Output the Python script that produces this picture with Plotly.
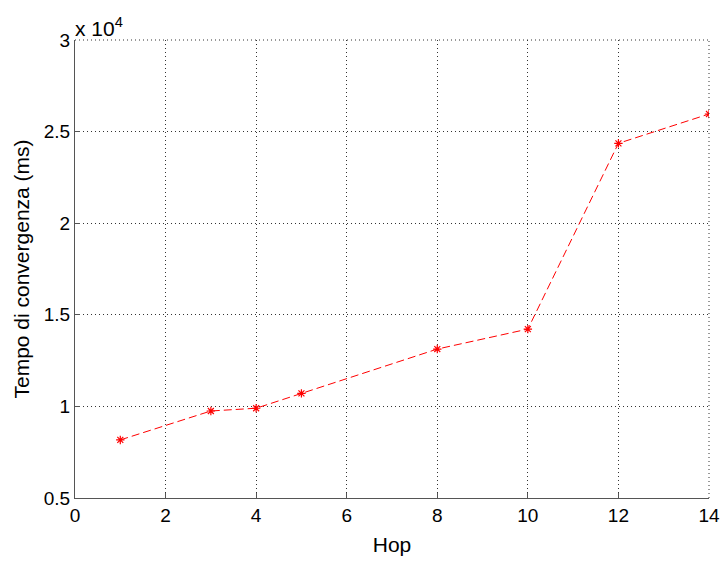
import plotly.graph_objects as go

# Convergence time versus number of hops
hops = [1, 3, 4, 5, 8, 10, 12, 14]
tempo_ms = [8170, 9750, 9900, 10710, 13130, 14220, 24360, 25960]

x_ticks = [0, 2, 4, 6, 8, 10, 12, 14]
y_tick_vals = [5000, 10000, 15000, 20000, 25000, 30000]
y_tick_text = ["0.5", "1", "1.5", "2", "2.5", "3"]

FONT = "Liberation Sans, Arial, Helvetica, sans-serif"
GRID = dict(color="#333333", width=1, dash="1px,3px")

fig = go.Figure()
fig.add_trace(go.Scatter(
    x=hops, y=tempo_ms,
    mode="lines+markers",
    line=dict(color="red", width=1, dash="8px,4px"),
    marker=dict(symbol="asterisk-open", size=7, color="red",
                line=dict(color="red", width=1.2)),
    showlegend=False,
))

axis_common = dict(
    showline=True, linecolor="#555555", linewidth=1.3,
    ticks="inside", ticklen=5, tickcolor="#555555", tickwidth=1,
    showgrid=True, gridcolor=GRID["color"], griddash=GRID["dash"], gridwidth=1,
    zeroline=False, mirror=False, automargin=False,
    tickfont=dict(family=FONT, size=19, color="black"),
)

fig.update_xaxes(
    range=[0, 14], tickvals=x_ticks,
    title=dict(text="Hop", font=dict(family=FONT, size=21, color="black"), standoff=12),
    **axis_common,
)
fig.update_yaxes(
    range=[5000, 30000], tickvals=y_tick_vals, ticktext=y_tick_text,
    title=dict(text="Tempo di convergenza (ms)",
               font=dict(family=FONT, size=21, color="black"), standoff=8),
    **axis_common,
)

# top and right borders drawn dotted, like the interior grid
fig.add_shape(type="line", xref="paper", yref="paper", x0=0, x1=1, y0=1, y1=1,
              line=GRID)
fig.add_shape(type="line", xref="paper", yref="paper", x0=1, x1=1, y0=0, y1=1,
              line=GRID)

# axis exponent label
fig.add_annotation(
    xref="paper", yref="paper", x=0.0, y=1.0, xanchor="left", yanchor="bottom",
    text="x 10<sup>4</sup>", showarrow=False,
    font=dict(family=FONT, size=21, color="black"), xshift=-2, yshift=-2,
)

fig.update_layout(
    width=721, height=561,
    margin=dict(l=75, r=12, t=40, b=63),
    paper_bgcolor="white", plot_bgcolor="white",
)

fig.write_html("out.html")
